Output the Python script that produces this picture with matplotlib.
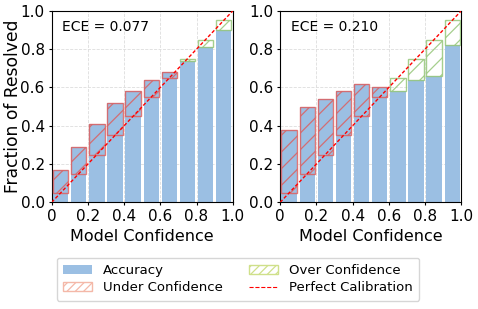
import numpy as np
import matplotlib
matplotlib.use('Agg')
import matplotlib.pyplot as plt
from matplotlib.patches import Patch
from matplotlib.lines import Line2D

# bin centers (model confidence)
conf = [0.05, 0.15, 0.25, 0.35, 0.45, 0.55, 0.65, 0.75, 0.85, 0.95]
# accuracy per bin
acc_left = [0.17, 0.29, 0.41, 0.52, 0.58, 0.64, 0.68, 0.74, 0.81, 0.90]
acc_right = [0.38, 0.50, 0.54, 0.58, 0.62, 0.60, 0.58, 0.64, 0.66, 0.82]
ece_labels = ['ECE = 0.077', 'ECE = 0.210']
ticks = [0, 0.2, 0.4, 0.6, 0.8, 1.0]
xtick_labels = ['0', '0.2', '0.4', '0.6', '0.8', '1.0']
ytick_labels = ['0.0', '0.2', '0.4', '0.6', '0.8', '1.0']

blue = '#9bbfe3'
red = '#dd5f5f'
green = '#96c77a'

plt.rcParams['hatch.linewidth'] = 0.9

fig = plt.figure(figsize=(4.78, 3.09), dpi=100)
ax1 = fig.add_axes([0.108, 0.345, 0.379, 0.62])
ax2 = fig.add_axes([0.586, 0.345, 0.379, 0.62])

for ax, acc, ece in [(ax1, acc_left, ece_labels[0]), (ax2, acc_right, ece_labels[1])]:
    ax.grid(True, color='#dddddd', linestyle='--', linewidth=0.6, zorder=0)
    ax.set_axisbelow(True)
    ax.bar(conf, acc, width=0.085, color=blue, zorder=2)
    for c, a in zip(conf, acc):
        col = red if a > c else green
        ax.bar(c, c - a, bottom=a, width=0.085, fill=False, edgecolor=col,
               hatch='//', linewidth=1.0, alpha=0.85, zorder=3)
    ax.plot([0, 1], [0, 1], color='red', linestyle='--', dashes=(2.5, 1.5),
            linewidth=1.0, zorder=4)
    ax.set_xlim(0, 1)
    ax.set_ylim(0, 1)
    ax.set_xticks(ticks)
    ax.set_xticklabels(xtick_labels, fontsize=11)
    ax.set_yticks(ticks)
    ax.set_yticklabels(ytick_labels, fontsize=11)
    ax.tick_params(length=2.5, pad=2.5)
    ax.set_xlabel('Model Confidence', fontsize=11.5, labelpad=3)
    ax.text(0.06, 0.915, ece, transform=ax.transAxes, fontsize=10, va='center')

ax1.set_ylabel('Fraction of Resolved', fontsize=12.3)
ax1.yaxis.set_label_coords(-0.165, 0.5)

handles = [
    Patch(facecolor=blue, edgecolor='none', label='Accuracy'),
    Patch(facecolor='none', edgecolor='#f4b8a8', hatch='////', label='Under Confidence'),
    Patch(facecolor='none', edgecolor='#cfe08a', hatch='////', label='Over Confidence'),
    Line2D([0], [0], color='red', linestyle='--', linewidth=0.8, label='Perfect Calibration'),
]
fig.legend(handles=handles, loc='lower center', bbox_to_anchor=(0.498, 0.005), ncol=2,
           fontsize=9.5, frameon=True, columnspacing=2.0, handlelength=2.2,
           borderpad=0.5, labelspacing=0.3)

fig.savefig('out.png', dpi=100)
